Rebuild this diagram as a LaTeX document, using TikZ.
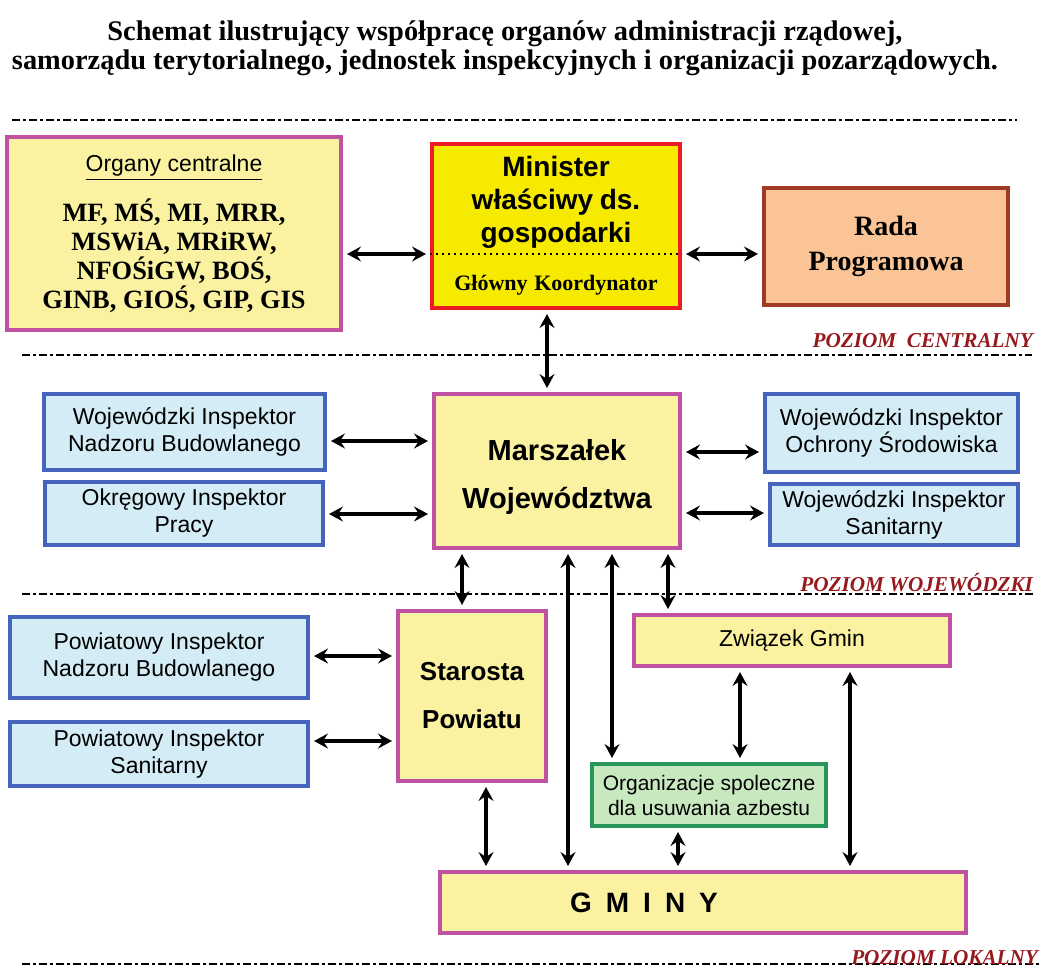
\documentclass[tikz,border=0pt]{standalone}
\usepackage{fontspec}
\setmainfont{Liberation Serif}
\setsansfont{Liberation Sans}
\usetikzlibrary{arrows.meta}
\definecolor{lilac}{RGB}{192,80,160}
\definecolor{pale}{RGB}{250,242,160}
\definecolor{minred}{RGB}{236,28,36}
\definecolor{minyel}{RGB}{246,234,0}
\definecolor{radabrown}{RGB}{160,58,40}
\definecolor{peach}{RGB}{250,196,150}
\definecolor{insblue}{RGB}{70,100,190}
\definecolor{skyfill}{RGB}{212,236,246}
\definecolor{grn}{RGB}{40,150,90}
\definecolor{mint}{RGB}{200,232,192}
\definecolor{lvlred}{RGB}{150,25,30}

\begin{document}
\begin{tikzpicture}[x=0.5pt,y=-0.5pt,
    box/.style={draw,line width=2pt,align=center,inner sep=2pt},
    ybox/.style={box,draw=lilac,fill=pale},
    bbox/.style={box,draw=insblue,fill=skyfill,font=\sffamily\fontsize{11.5}{13.5}\selectfont},
    arr/.style={line width=1.6pt,{Stealth[length=7pt,width=7.5pt,inset=2.5pt]}-{Stealth[length=7pt,width=7.5pt,inset=2.5pt]},
      shorten >=2pt,shorten <=2pt},
    sep/.style={line width=1.1pt,dash pattern=on 4pt off 1.5pt on 1.5pt off 1.5pt},
    lvl/.style={anchor=base east,text=lvlred,font=\bfseries\itshape\fontsize{10.6}{12}\selectfont}]
  \useasboundingbox (0,0) rectangle (1048,969);
  \node[anchor=north,align=center,font=\bfseries\fontsize{14.2}{14.2}\selectfont] (title) at (505,14)
    {Schemat ilustrujący współpracę organów administracji rządowej,\\
     samorządu terytorialnego, jednostek inspekcyjnych i organizacji pozarządowych.};
  % separators between levels
  \draw[sep] (12,120) -- (1017,120);
  \draw[sep] (22,355) -- (1032,355);
  \draw[sep] (22,594) -- (1035,594);
  \draw[sep] (22,964) -- (1040,964);
  \node[lvl] (lcen) at (1040,347) {POZIOM\ \ CENTRALNY};
  \node[lvl] (lwoj) at (1040,591) {POZIOM WOJEWÓDZKI};
  \node[lvl] (llok) at (1045,964) {POZIOM LOKALNY};

  % central level
  \node[ybox,text width=160pt,minimum width=167pt,minimum height=96.5pt] (org) at (174,233.5)
    {{\sffamily\fontsize{11.5}{14}\selectfont\underline{Organy centralne}\par}\vspace{8.5pt}
     {\bfseries\fontsize{13.2}{14.4}\selectfont MF, MŚ, MI, MRR,\\ MSWiA, MRiRW,\\ NFOŚiGW, BOŚ,\\ GINB, GIOŚ, GIP, GIS\par}};
  \node[box,draw=minred,fill=minyel,text width=118pt,minimum width=124pt,minimum height=82pt] (min) at (556,226)
    {{\sffamily\bfseries\fontsize{14}{16.5}\selectfont Minister\\ właściwy ds.\\ gospodarki\par}\vspace{11pt}
     {\bfseries\fontsize{11}{13}\selectfont Główny Koordynator\par}};
  \draw[dotted,line width=1pt] (min.west |- 0,254) -- (min.east |- 0,254);
  \node[box,draw=radabrown,fill=peach,minimum width=122pt,minimum height=58.5pt,
    font=\bfseries\fontsize{14}{17.5}\selectfont] (rada) at (886,246.5) {Rada\\ Programowa};

  % voivodeship level
  \node[ybox,minimum width=123pt,minimum height=77pt,font=\sffamily\bfseries\fontsize{14.5}{24.5}\selectfont]
    (mar) at (557,471) {\rule{0pt}{16.5pt}Marszałek\\ Województwa};
  \node[bbox,minimum width=140.5pt,minimum height=38pt] (winb) at (184.5,432) {Wojewódzki Inspektor\\ Nadzoru Budowlanego};
  \node[bbox,minimum width=139pt,minimum height=31.5pt] (oip) at (184,513.5) {Okręgowy Inspektor\\ Pracy};
  \node[bbox,minimum width=126.5pt,minimum height=39pt] (wios) at (891.5,433) {Wojewódzki Inspektor\\ Ochrony Środowiska};
  \node[bbox,minimum width=124pt,minimum height=30.5pt] (wis) at (894,514.5) {Wojewódzki Inspektor\\ Sanitarny};

  % local level
  \node[ybox,minimum width=74pt,minimum height=85pt,font=\sffamily\bfseries\fontsize{13}{24}\selectfont]
    (star) at (472,696) {Starosta\\ Powiatu};
  \node[ybox,minimum width=158pt,minimum height=25.5pt,font=\sffamily\fontsize{11.5}{13.5}\selectfont]
    (zg) at (792,640.5) {Związek Gmin};
  \node[box,draw=grn,fill=mint,minimum width=117pt,minimum height=31pt,font=\sffamily\fontsize{10.5}{12.5}\selectfont]
    (orgs) at (709,795) {Organizacje spoleczne\\ dla usuwania azbestu};
  \node[bbox,minimum width=149pt,minimum height=40.5pt] (pinb) at (159,657.5) {Powiatowy Inspektor\\ Nadzoru Budowlanego};
  \node[bbox,minimum width=149pt,minimum height=32pt] (pis) at (159,754) {Powiatowy Inspektor\\ Sanitarny};
  \node[ybox,minimum width=263pt,minimum height=30.5pt,font=\sffamily\bfseries\fontsize{14}{16}\selectfont]
    (gminy) at (703,902.5) {G\enspace M\enspace I\enspace N\enspace Y\hspace*{59pt}};

  % connectors
  \foreach \a/\b/\y in {org/min/254,min/rada/254,winb/mar/441,oip/mar/514,
      mar/wios/452,mar/wis/513,pinb/star/656,pis/star/741}
    \draw[arr] (\a.east |- 0,\y) -- (\b.west |- 0,\y);
  \foreach \a/\b/\x in {min/mar/547,mar/star/462,mar/gminy/568,mar/orgs/612,mar/zg/668,
      zg/orgs/740,zg/gminy/850,orgs/gminy/678,star/gminy/486}
    \draw[arr] (\a.south -| \x,0) -- (\b.north -| \x,0);
\end{tikzpicture}
\end{document}
